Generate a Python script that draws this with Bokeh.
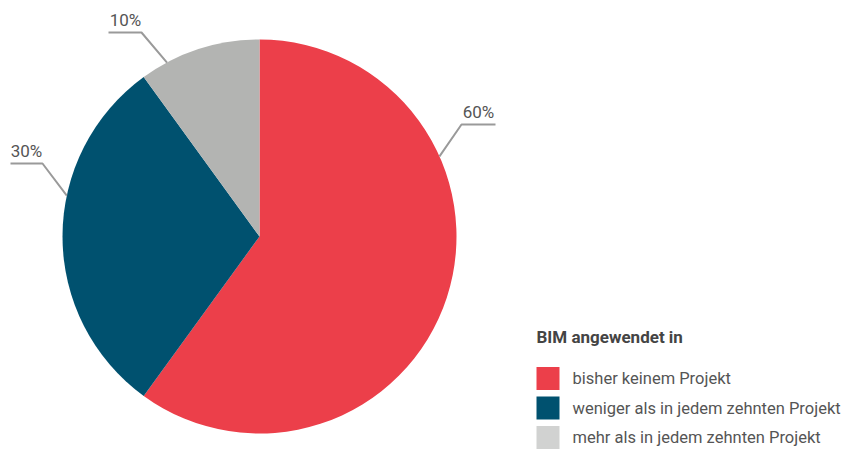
import math
from bokeh.plotting import figure
from bokeh.models import Range1d
from bokeh.embed import file_html
from bokeh.resources import INLINE
from bokeh.core.properties import value

# ---- data ----
categories = ["bisher keinem Projekt", "weniger als in jedem zehnten Projekt", "mehr als in jedem zehnten Projekt"]
shares = [60, 30, 10]
labels = ["60%", "30%", "10%"]
colors = ["#ec3f4a", "#00516f", "#b3b4b2"]
legend_colors = ["#ec3f4a", "#00516f", "#d1d2d1"]
legend_title = "BIM angewendet in"

# ---- layout (pixel coords from top-left -> data coords) ----
W, H = 843, 450
def X(px): return px
def Y(py): return H - py

cx, cy, r = X(259), Y(236), 197
# connector angles (degrees clockwise from top) and label elbows
conn_deg = [66, 282, 332]
elbow = [(461, 124), (42, 163), (141, 32)]
line_end = [(495, 124), (10, 163), (108, 32)]
label_x = [478, 26, 125]

p = figure(width=W, height=H, x_range=Range1d(0, W), y_range=Range1d(0, H),
           output_backend="svg", toolbar_location=None, min_border=0)
p.axis.visible = False
p.grid.visible = False
p.outline_line_color = None
p.background_fill_color = "white"

total = sum(shares)
start = 0.0
for s, c in zip(shares, colors):
    a0 = math.pi / 2 - 2 * math.pi * start / total
    a1 = math.pi / 2 - 2 * math.pi * (start + s) / total
    p.wedge(x=cx, y=cy, radius=r, start_angle=a0, end_angle=a1, direction="clock",
            fill_color=c, line_color=None)
    start += s

font = "Roboto"
for i, lab in enumerate(labels):
    th = math.radians(conn_deg[i])
    ex = cx + r * math.sin(th)
    ey = cy + r * math.cos(th)
    xs = [ex, X(elbow[i][0]), X(line_end[i][0])]
    ys = [ey, Y(elbow[i][1]), Y(line_end[i][1])]
    p.line(xs, ys, line_color="#9a9a9a", line_width=2)
    p.text(x=[X(label_x[i])], y=[Y(elbow[i][1]) + 3], text=[lab], text_align="center",
           text_baseline="bottom", text_font=value(font), text_font_size="17px",
           text_color="#555555")

# legend
lx = 536
p.text(x=[X(lx)], y=[Y(336)], text=[legend_title], text_baseline="middle",
       text_font=value(font), text_font_size="17px", text_font_style="bold",
       text_color="#444444")
for i, (cat, c) in enumerate(zip(categories, legend_colors)):
    yc = 378 + 29.5 * i
    p.rect(x=X(lx + 11.5), y=Y(yc), width=23, height=23, fill_color=c, line_color=None)
    p.text(x=[X(lx + 36)], y=[Y(yc)], text=[cat], text_baseline="middle",
           text_font=value(font), text_font_size="16.5px", text_color="#555555")

open("out.html", "w").write(file_html(p, INLINE))
